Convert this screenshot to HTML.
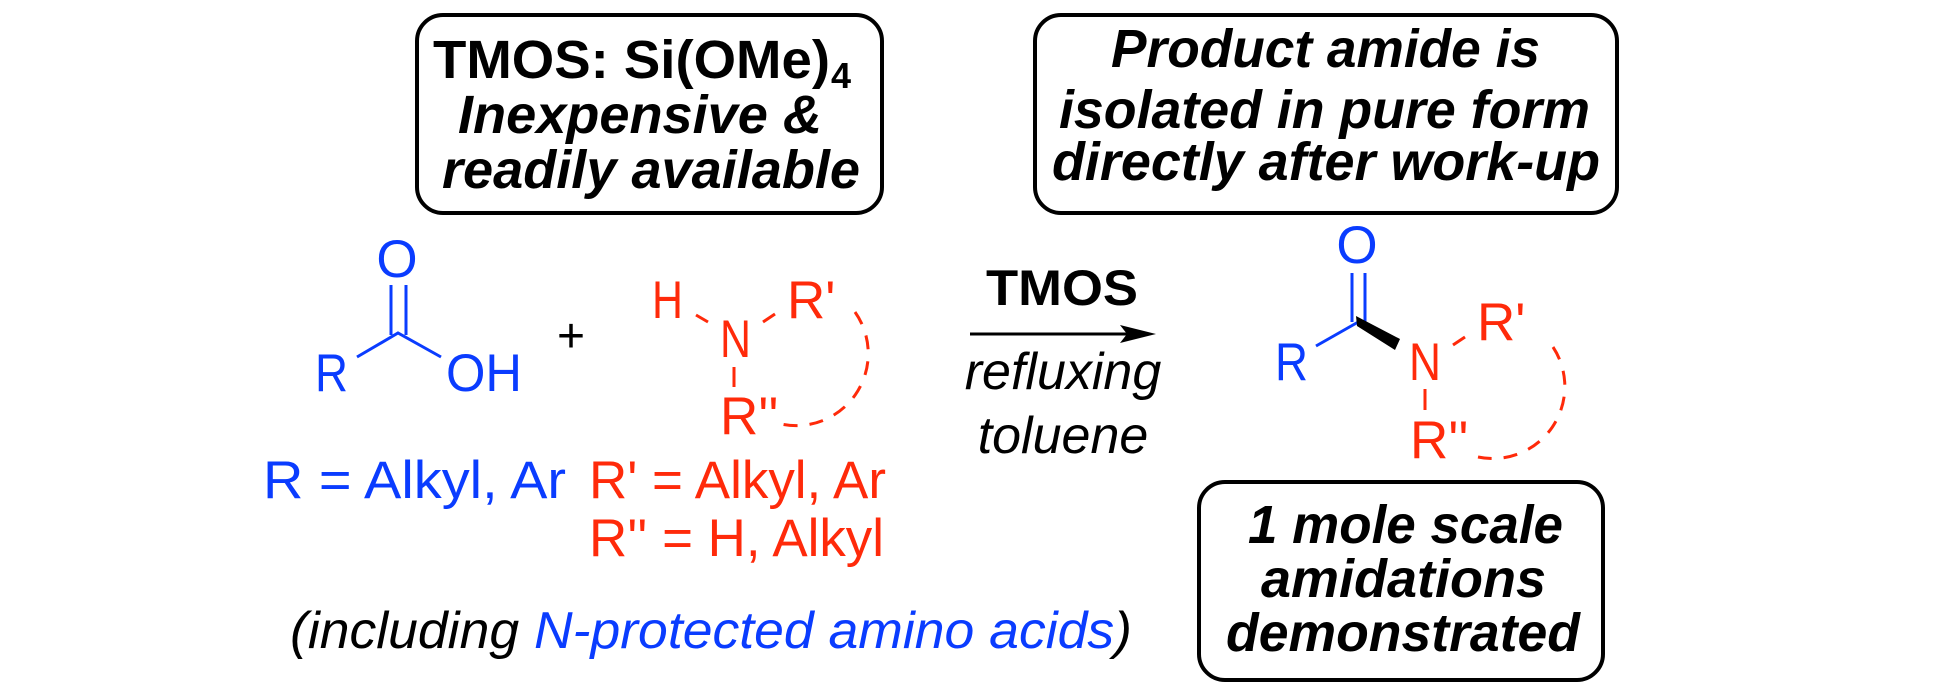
<!DOCTYPE html>
<html><head><meta charset="utf-8"><style>
html,body{margin:0;padding:0;background:#fff;}
svg{display:block;}
text{font-family:"Liberation Sans",Arial,sans-serif;}
.b{font-weight:bold;font-style:italic;fill:#000;}
</style></head><body>
<svg width="1934" height="694" viewBox="0 0 1934 694" xmlns="http://www.w3.org/2000/svg">
<rect x="0" y="0" width="1934" height="694" fill="#fff"/>
<!-- Box1 -->
<rect x="417" y="15" width="465" height="198" rx="26" fill="none" stroke="#000" stroke-width="4"/>
<text x="433" y="78" font-size="54" font-weight="bold" textLength="397" lengthAdjust="spacingAndGlyphs">TMOS: Si(OMe)</text>
<text x="831" y="88" font-size="36" font-weight="bold">4</text>
<text class="b" x="458" y="133" font-size="54" textLength="364" lengthAdjust="spacingAndGlyphs">Inexpensive &amp;</text>
<text class="b" x="442" y="188" font-size="54" textLength="418" lengthAdjust="spacingAndGlyphs">readily available</text>
<!-- Box2 -->
<rect x="1035" y="15" width="582" height="198" rx="26" fill="none" stroke="#000" stroke-width="4"/>
<text class="b" x="1111" y="67" font-size="54" textLength="429" lengthAdjust="spacingAndGlyphs">Product amide is</text>
<text class="b" x="1059" y="128" font-size="54" textLength="531" lengthAdjust="spacingAndGlyphs">isolated in pure form</text>
<text class="b" x="1052" y="180" font-size="54" textLength="548" lengthAdjust="spacingAndGlyphs">directly after work-up</text>
<!-- Box3 -->
<rect x="1199" y="482" width="404" height="198" rx="26" fill="none" stroke="#000" stroke-width="4"/>
<text class="b" x="1248" y="543" font-size="54" textLength="315" lengthAdjust="spacingAndGlyphs">1 mole scale</text>
<text class="b" x="1261" y="597" font-size="54" textLength="285" lengthAdjust="spacingAndGlyphs">amidations</text>
<text class="b" x="1226" y="651" font-size="54" textLength="354" lengthAdjust="spacingAndGlyphs">demonstrated</text>

<!-- Acid (blue) -->
<g fill="#0a3cff" font-size="53">
<text x="397" y="277" text-anchor="middle">O</text>
<text x="315" y="391" textLength="33" lengthAdjust="spacingAndGlyphs">R</text>
<text x="446" y="391" textLength="76" lengthAdjust="spacingAndGlyphs">OH</text>
</g>
<g stroke="#0a3cff" stroke-width="3" fill="none">
<line x1="391" y1="285" x2="391" y2="335"/>
<line x1="406" y1="285" x2="406" y2="335"/>
<polyline points="357,357 398,333 441,357"/>
</g>
<text x="571" y="352" font-size="48" text-anchor="middle" fill="#000">+</text>

<!-- Amine (red) -->
<g fill="#ff2a0a" font-size="53">
<text x="652" y="318" textLength="31" lengthAdjust="spacingAndGlyphs">H</text>
<text x="720" y="357" textLength="31" lengthAdjust="spacingAndGlyphs">N</text>
<text x="787" y="318">R'</text>
<text x="720" y="434">R''</text>
</g>
<g stroke="#ff2a0a" stroke-width="3" fill="none">
<line x1="696" y1="315" x2="708" y2="322"/>
<line x1="763" y1="322" x2="775" y2="314"/>
<line x1="734" y1="367" x2="734" y2="387"/>
<path d="M855,312 A72,72 0 0 1 777,423" stroke-dasharray="14,12"/>
</g>
<text x="263" y="498" font-size="53" fill="#0a3cff" textLength="303" lengthAdjust="spacingAndGlyphs">R =  Alkyl, Ar</text>
<text x="589" y="498" font-size="53" fill="#ff2a0a" textLength="297" lengthAdjust="spacingAndGlyphs">R' = Alkyl, Ar</text>
<text x="589" y="556" font-size="53" fill="#ff2a0a" textLength="295" lengthAdjust="spacingAndGlyphs">R'' = H, Alkyl</text>
<text x="290" y="648" font-size="52" font-style="italic" fill="#000" textLength="842" lengthAdjust="spacingAndGlyphs">(including <tspan fill="#0a3cff">N-protected amino acids</tspan>)</text>

<!-- Arrow -->
<text x="986" y="305" font-size="50" font-weight="bold" fill="#000" textLength="152" lengthAdjust="spacingAndGlyphs">TMOS</text>
<line x1="970" y1="334" x2="1130" y2="334" stroke="#000" stroke-width="3"/>
<polygon points="1120,325 1156,334 1120,343 1127,334" fill="#000"/>
<text x="1063" y="389" font-size="52" font-style="italic" text-anchor="middle" fill="#000">refluxing</text>
<text x="1063" y="453" font-size="52" font-style="italic" text-anchor="middle" fill="#000">toluene</text>

<!-- Product -->
<g fill="#0a3cff" font-size="53">
<text x="1357" y="263" text-anchor="middle">O</text>
<text x="1275" y="380" textLength="33" lengthAdjust="spacingAndGlyphs">R</text>
</g>
<g stroke="#0a3cff" stroke-width="3" fill="none">
<line x1="1352" y1="273" x2="1352" y2="322"/>
<line x1="1365" y1="273" x2="1365" y2="322"/>
<line x1="1316" y1="346" x2="1360" y2="321"/>
</g>
<polygon points="1356,316 1400,339 1395,350 1357,326" fill="#000"/>
<g fill="#ff2a0a" font-size="53">
<text x="1409" y="380" textLength="32" lengthAdjust="spacingAndGlyphs">N</text>
<text x="1477" y="340">R'</text>
<text x="1410" y="458">R''</text>
</g>
<g stroke="#ff2a0a" stroke-width="3" fill="none">
<line x1="1453" y1="345" x2="1465" y2="337"/>
<line x1="1425" y1="389" x2="1425" y2="410"/>
<path d="M1553,347 A72,72 0 0 1 1478,457" stroke-dasharray="14,12"/>
</g>
</svg>
</body></html>
